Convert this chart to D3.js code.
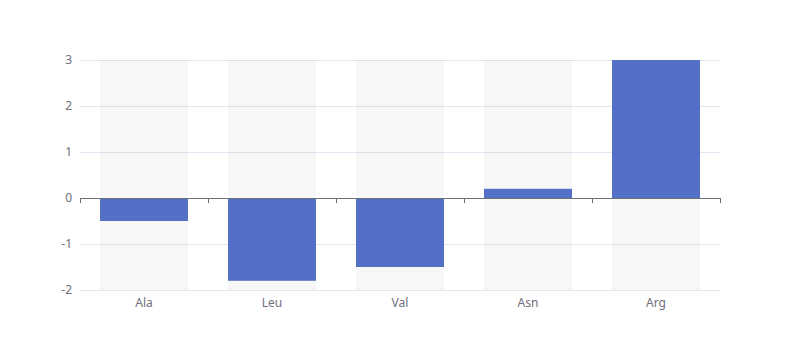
<!DOCTYPE html>
<html><head><meta charset="utf-8">
<script src="https://cdn.jsdelivr.net/npm/d3@7/dist/d3.min.js"></script>
<style>body{margin:0;background:#fff}svg{display:block}</style>
</head><body>
<svg id="chart" width="800" height="360"></svg>
<script>
const categories = ["Ala", "Leu", "Val", "Asn", "Arg"];
const values = [-0.5, -1.8, -1.5, 0.2, 3];
const yTicks = [-2, -1, 0, 1, 2, 3];

const svg = d3.select("#chart");
const font = "'Microsoft YaHei', 'Noto Sans', sans-serif";
const x = d3.scaleBand().domain(categories).range([80, 720]).paddingInner(0).paddingOuter(0);
const y = d3.scaleLinear().domain([-2, 3]).range([290, 60]);
const bw = x.bandwidth() * 0.6875;
const off = (x.bandwidth() - bw) / 2;

// grid
svg.append("g").selectAll("line").data(yTicks).join("line")
  .attr("x1", 80).attr("x2", 720)
  .attr("y1", d => y(d) + 0.5).attr("y2", d => y(d) + 0.5)
  .attr("stroke", "#E0E6F1").attr("stroke-width", 1);

// background bars
svg.append("g").selectAll("rect").data(categories).join("rect")
  .attr("x", d => x(d) + off).attr("width", bw)
  .attr("y", y(3)).attr("height", y(-2) - y(3))
  .attr("fill", "rgba(180,180,180,0.1)");

// bars
svg.append("g").selectAll("rect").data(values).join("rect")
  .attr("x", (d, i) => x(categories[i]) + off).attr("width", bw)
  .attr("y", d => y(Math.max(0, d)))
  .attr("height", d => Math.abs(y(d) - y(0)))
  .attr("fill", "#5470c6");

// x axis at zero
const gx = svg.append("g").attr("transform", `translate(0,${y(0)})`);
gx.append("line").attr("x1", 80).attr("x2", 720).attr("y1", 0.5).attr("y2", 0.5)
  .attr("stroke", "#6E7079");
const tickPos = categories.map(c => x(c)).concat([720]);
gx.selectAll("line.tk").data(tickPos).join("line").attr("class", "tk")
  .attr("x1", d => d + 0.5).attr("x2", d => d + 0.5).attr("y1", 0).attr("y2", 5)
  .attr("stroke", "#6E7079");

// x labels at bottom
svg.append("g").selectAll("text").data(categories).join("text")
  .attr("x", d => x(d) + x.bandwidth() / 2).attr("y", 307)
  .attr("text-anchor", "middle").attr("fill", "#6E7079")
  .attr("font-size", 12).attr("font-family", font).text(d => d);

// y labels
const yAxis = d3.axisLeft(y).tickValues(yTicks).tickSize(0).tickPadding(8).tickFormat(d => String(d));
const gy = svg.append("g").attr("transform", "translate(80,0)").call(yAxis);
gy.select(".domain").remove();
gy.selectAll("text").attr("fill", "#6E7079").attr("font-size", 12).attr("font-family", font);
</script>
</body></html>
